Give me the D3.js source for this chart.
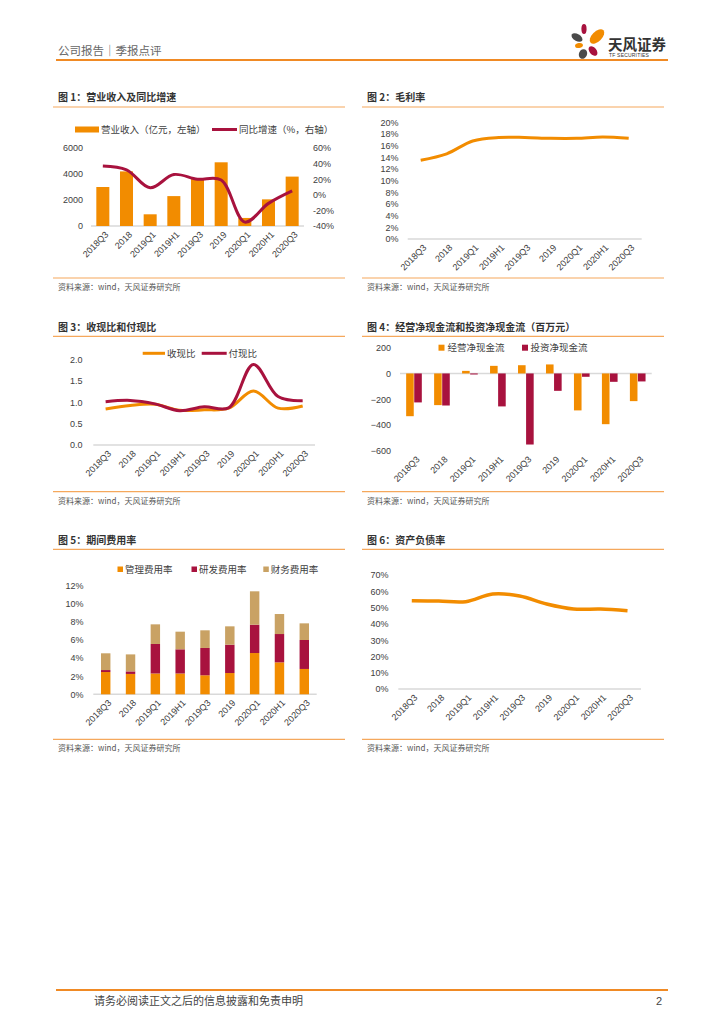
<!DOCTYPE html>
<html>
<head>
<meta charset="utf-8">
<script src="https://cdn.jsdelivr.net/npm/d3@7"></script>
<style>
  body { margin: 0; background: #fff; }
  text { font-family: "Liberation Sans", "Noto Sans CJK SC", sans-serif; }
</style>
</head>
<body>
<div id="page"></div>
<script>
// ---- data ----
const categories = ["2018Q3", "2018", "2019Q1", "2019H1", "2019Q3", "2019", "2020Q1", "2020H1", "2020Q3"];

// fig 1
const revenue = [3000, 4200, 900, 2300, 3650, 4900, 620, 2050, 3800];      // 亿元
const revenueGrowth = [37, 32, 9, 26, 20, 19, -35, -11, 5];                 // %
const revenueTicks = [0, 2000, 4000, 6000];
const growthTicks = [-40, -20, 0, 20, 40, 60];

// fig 2
const grossMargin = [13.5, 14.6, 16.8, 17.4, 17.4, 17.25, 17.25, 17.5, 17.25];
const marginTicks = [0, 2, 4, 6, 8, 10, 12, 14, 16, 18, 20];

// fig 3
const cashInRatio = [0.84, 0.92, 0.95, 0.81, 0.82, 0.86, 1.26, 0.86, 0.91];
const cashOutRatio = [1.01, 1.04, 0.96, 0.80, 0.89, 0.87, 1.88, 1.13, 1.03];
const ratioTicks = [0, 0.5, 1, 1.5, 2];

// fig 4 (百万元)
const operatingCF = [-332, -246, 20, 59, 64, 70, -287, -394, -215];
const investingCF = [-225, -249, -8, -256, -552, -135, -26, -65, -62];
const cashFlowTicks = [-600, -400, -200, 0, 200];

// fig 5 (%)
const mgmtRate = [2.46, 2.25, 2.3, 2.3, 2.1, 2.35, 4.56, 3.53, 2.8];
const rdRate = [0.22, 0.28, 3.26, 2.67, 3.02, 3.13, 3.13, 3.13, 3.2];
const finRate = [1.85, 1.88, 2.17, 1.95, 1.95, 2.03, 3.69, 2.21, 1.84];
const expenseTicks = [0, 2, 4, 6, 8, 10, 12];

// fig 6
const debtRatio = [54.2, 54.0, 53.6, 58.3, 57.1, 52.2, 49.1, 49.1, 48.1];
const debtTicks = [0, 10, 20, 30, 40, 50, 60, 70];

const ORANGE = "#f28c00";
const CRIMSON = "#a8123e";
const TAN = "#c9a264";
const BASE = "#d9d9d9";
const RULE = "#f5a85c";
const TXT = "#404040";
const CJK = '"Noto Sans CJK SC", sans-serif';

const svg = d3.select("#page")
    .append("svg")
        .attr("width", 724)
        .attr("height", 1024)
        .attr("viewBox", "0 0 724 1024");

svg.append("rect").attr("width", 724).attr("height", 1024).attr("fill", "#fff");

// ---- page header ----
svg.append("text").attr("x", 58).attr("y", 55)
    .style("font-family", CJK).style("font-size", "11.5px").attr("fill", "#666")
    .text("公司报告｜季报点评");
svg.append("line").attr("x1", 56).attr("x2", 668).attr("y1", 60).attr("y2", 60)
    .attr("stroke", "#f08a24").attr("stroke-width", 2);

const petals = [
    {cx: 584, cy: 29, rx: 2.6, ry: 5, rot: 0, c: CRIMSON},
    {cx: 597, cy: 36.5, rx: 5, ry: 9, rot: 45, c: ORANGE},
    {cx: 577, cy: 37.5, rx: 6, ry: 3.5, rot: 30, c: "#4a4a4a"},
    {cx: 579, cy: 45.5, rx: 4, ry: 2.5, rot: -10, c: ORANGE},
    {cx: 593, cy: 51, rx: 3.5, ry: 5.5, rot: -40, c: CRIMSON},
    {cx: 583, cy: 54, rx: 4, ry: 5, rot: 25, c: "#4a4a4a"}
];
svg.append("g").selectAll("ellipse").data(petals).join("ellipse")
    .attr("transform", d => `translate(${d.cx},${d.cy}) rotate(${d.rot})`)
    .attr("rx", d => d.rx).attr("ry", d => d.ry).attr("fill", d => d.c);
svg.append("text").attr("x", 608).attr("y", 50)
    .style("font-family", CJK).style("font-size", "14.5px").style("font-weight", "bold")
    .attr("fill", "#333").text("天风证券");
svg.append("text").attr("x", 609).attr("y", 57)
    .style("font-size", "5px").style("letter-spacing", "0.2px").attr("fill", "#333")
    .text("TF SECURITIES");

// ---- page footer ----
svg.append("line").attr("x1", 56).attr("x2", 668).attr("y1", 990).attr("y2", 990)
    .attr("stroke", "#f08a24").attr("stroke-width", 2);
svg.append("text").attr("x", 94).attr("y", 1005)
    .style("font-family", CJK).style("font-size", "11px").attr("fill", "#444")
    .text("请务必阅读正文之后的信息披露和免责申明");
svg.append("text").attr("x", 662).attr("y", 1005).attr("text-anchor", "end")
    .style("font-size", "11px").attr("fill", "#444").text("2");

// ---- helpers ----
const panel = (x0, x1, titleY, topY, bottomY, title) => {
    svg.append("text").attr("x", x0 + 5).attr("y", titleY)
        .style("font-family", CJK).style("font-size", "10px").style("font-weight", "bold")
        .attr("fill", "#333").text(title);
    svg.append("line").attr("x1", x0).attr("x2", x1).attr("y1", topY).attr("y2", topY)
        .attr("stroke", RULE).attr("stroke-width", 1.2);
    svg.append("line").attr("x1", x0).attr("x2", x1).attr("y1", bottomY).attr("y2", bottomY)
        .attr("stroke", RULE).attr("stroke-width", 1.2);
    svg.append("text").attr("x", x0 + 5).attr("y", bottomY + 12)
        .style("font-family", CJK).style("font-size", "8px").attr("fill", "#555")
        .text("资料来源：wind，天风证券研究所");
};

const xLabels = (x, baseY) => {
    const g = svg.append("g").attr("transform", `translate(0,${baseY})`)
        .call(d3.axisBottom(x).tickSize(0));
    g.select(".domain").remove();
    g.selectAll("text")
        .attr("x", 0).attr("y", 0).attr("dy", "0.35em")
        .attr("transform", "translate(4,7) rotate(-45)")
        .style("text-anchor", "end")
        .style("font-size", "9px")
        .attr("fill", TXT);
};

const yLabels = (y, xPos, ticks, fmt, right) => {
    const axis = right ? d3.axisRight(y) : d3.axisLeft(y);
    const g = svg.append("g").attr("transform", `translate(${xPos},0)`)
        .call(axis.tickValues(ticks).tickSize(0).tickPadding(0).tickFormat(fmt));
    g.select(".domain").remove();
    g.selectAll("text").style("font-size", "9px").attr("fill", TXT);
};

const baseLine = (x, yPos) => {
    const [a, b] = x.range();
    svg.append("line").attr("x1", a).attr("x2", b).attr("y1", yPos).attr("y2", yPos)
        .attr("stroke", BASE).attr("stroke-width", 1.5);
};

const legendText = (xPos, yPos, label) => {
    svg.append("text").attr("x", xPos).attr("y", yPos).attr("dy", "0.35em")
        .style("font-family", CJK).style("font-size", "9.5px").attr("fill", TXT)
        .text(label);
};

const pct = d => d + "%";
const smooth = d3.curveCatmullRom.alpha(0.5);

// ================= 图 1 =================
panel(53, 345, 101, 107, 278, "图 1：营业收入及同比增速");
{
    const x = d3.scaleBand().domain(categories).range([91, 304]).paddingInner(0.45).paddingOuter(0.225);
    const yL = d3.scaleLinear().domain([0, 6000]).range([226, 148]);
    const yR = d3.scaleLinear().domain([-40, 60]).range([226, 148]);

    baseLine(x, 226);
    svg.append("g").selectAll(".bar1").data(revenue).join("rect")
        .attr("class", "bar1")
        .attr("x", (d, i) => x(categories[i]))
        .attr("y", d => yL(d))
        .attr("width", x.bandwidth())
        .attr("height", d => yL(0) - yL(d))
        .attr("fill", ORANGE);

    const line = d3.line()
        .x((d, i) => x(categories[i]) + x.bandwidth() / 2)
        .y(d => yR(d))
        .curve(smooth);
    svg.append("path").datum(revenueGrowth).attr("d", line)
        .attr("fill", "none").attr("stroke", CRIMSON).attr("stroke-width", 3);

    yLabels(yL, 83, revenueTicks, d3.format("d"), false);
    yLabels(yR, 313, growthTicks, pct, true);
    xLabels(x, 226);

    svg.append("rect").attr("x", 75).attr("y", 126.5).attr("width", 24).attr("height", 6).attr("fill", ORANGE);
    legendText(101, 129.5, "营业收入（亿元，左轴）");
    svg.append("line").attr("x1", 212).attr("x2", 237).attr("y1", 129.5).attr("y2", 129.5)
        .attr("stroke", CRIMSON).attr("stroke-width", 3);
    legendText(239, 129.5, "同比增速（%，右轴）");
}

// ================= 图 2 =================
panel(362, 664, 101, 107, 278, "图 2：毛利率");
{
    const x = d3.scaleBand().domain(categories).range([407.7, 641.7]);
    const y = d3.scaleLinear().domain([0, 20]).range([239, 122.3]);
    baseLine(x, 239);
    const line = d3.line()
        .x((d, i) => x(categories[i]) + x.bandwidth() / 2)
        .y(d => y(d))
        .curve(smooth);
    svg.append("path").datum(grossMargin).attr("d", line)
        .attr("fill", "none").attr("stroke", ORANGE).attr("stroke-width", 3);
    yLabels(y, 398.5, marginTicks, pct, false);
    xLabels(x, 239);
}

// ================= 图 3 =================
panel(53, 345, 330.5, 336.3, 491.7, "图 3：收现比和付现比");
{
    const x = d3.scaleBand().domain(categories).range([93.3, 315]);
    const y = d3.scaleLinear().domain([0, 2]).range([445, 359.3]);
    baseLine(x, 445);
    const line = d3.line()
        .x((d, i) => x(categories[i]) + x.bandwidth() / 2)
        .y(d => y(d))
        .curve(smooth);
    svg.append("path").datum(cashInRatio).attr("d", line)
        .attr("fill", "none").attr("stroke", ORANGE).attr("stroke-width", 3);
    svg.append("path").datum(cashOutRatio).attr("d", line)
        .attr("fill", "none").attr("stroke", CRIMSON).attr("stroke-width", 3);
    yLabels(y, 82.5, ratioTicks, d3.format(".1f"), false);
    xLabels(x, 445);

    svg.append("line").attr("x1", 142.7).attr("x2", 165).attr("y1", 353.3).attr("y2", 353.3)
        .attr("stroke", ORANGE).attr("stroke-width", 3);
    legendText(167, 353.3, "收现比");
    svg.append("line").attr("x1", 201.7).attr("x2", 226.7).attr("y1", 353.3).attr("y2", 353.3)
        .attr("stroke", CRIMSON).attr("stroke-width", 3);
    legendText(228.5, 353.3, "付现比");
}

// ================= 图 4 =================
panel(362, 664, 330.5, 336.3, 491.7, "图 4：经营净现金流和投资净现金流（百万元）");
{
    const x = d3.scaleBand().domain(categories).range([400, 651.7]).paddingInner(0.44).paddingOuter(0.22);
    const inner = d3.scaleBand().domain(["op", "inv"]).range([0, x.bandwidth()]).paddingInner(0.06);
    const y = d3.scaleLinear().domain([-600, 200]).range([450.7, 347.7]);
    baseLine(x, y(0));

    const series = [
        {key: "op", values: operatingCF, color: ORANGE},
        {key: "inv", values: investingCF, color: CRIMSON}
    ];
    series.forEach(s => {
        svg.append("g").selectAll("rect").data(s.values).join("rect")
            .attr("x", (d, i) => x(categories[i]) + inner(s.key))
            .attr("y", d => y(Math.max(0, d)))
            .attr("width", inner.bandwidth())
            .attr("height", d => Math.abs(y(d) - y(0)))
            .attr("fill", s.color);
    });
    yLabels(y, 391, cashFlowTicks, d3.format("d"), false);
    xLabels(x, 450.7);

    svg.append("rect").attr("x", 438.5).attr("y", 344.7).attr("width", 6).attr("height", 6).attr("fill", ORANGE);
    legendText(447.5, 347.7, "经营净现金流");
    svg.append("rect").attr("x", 522).attr("y", 344.7).attr("width", 6).attr("height", 6).attr("fill", CRIMSON);
    legendText(530.5, 347.7, "投资净现金流");
}

// ================= 图 5 =================
panel(53, 345, 544, 549.3, 739.3, "图 5：期间费用率");
{
    const x = d3.scaleBand().domain(categories).range([93.3, 316.7]).paddingInner(0.62).paddingOuter(0.31);
    const y = d3.scaleLinear().domain([0, 12]).range([694.3, 585.7]);
    const rows = categories.map((c, i) => ({cat: c, mgmt: mgmtRate[i], rd: rdRate[i], fin: finRate[i]}));
    const stack = d3.stack().keys(["mgmt", "rd", "fin"])(rows);
    const colors = {mgmt: ORANGE, rd: CRIMSON, fin: TAN};

    baseLine(x, 694.3);
    svg.append("g").selectAll("g").data(stack).join("g")
        .attr("fill", d => colors[d.key])
        .selectAll("rect").data(d => d).join("rect")
            .attr("x", d => x(d.data.cat))
            .attr("y", d => y(d[1]))
            .attr("width", x.bandwidth())
            .attr("height", d => y(d[0]) - y(d[1]));
    yLabels(y, 83.5, expenseTicks, pct, false);
    xLabels(x, 694.3);

    const legend = [
        {x: 117.5, label: "管理费用率", c: ORANGE},
        {x: 191.5, label: "研发费用率", c: CRIMSON},
        {x: 263.3, label: "财务费用率", c: TAN}
    ];
    legend.forEach(l => {
        svg.append("rect").attr("x", l.x).attr("y", 566.5).attr("width", 5.5).attr("height", 5.5).attr("fill", l.c);
        legendText(l.x + 7.5, 569.3, l.label);
    });
}

// ================= 图 6 =================
panel(362, 664, 544, 549.3, 739.3, "图 6：资产负债率");
{
    const x = d3.scaleBand().domain(categories).range([398.3, 641]);
    const y = d3.scaleLinear().domain([0, 70]).range([689, 575]);
    baseLine(x, 689);
    const line = d3.line()
        .x((d, i) => x(categories[i]) + x.bandwidth() / 2)
        .y(d => y(d))
        .curve(smooth);
    svg.append("path").datum(debtRatio).attr("d", line)
        .attr("fill", "none").attr("stroke", ORANGE).attr("stroke-width", 3.5);
    yLabels(y, 388.5, debtTicks, pct, false);
    xLabels(x, 689);
}
</script>
</body>
</html>
